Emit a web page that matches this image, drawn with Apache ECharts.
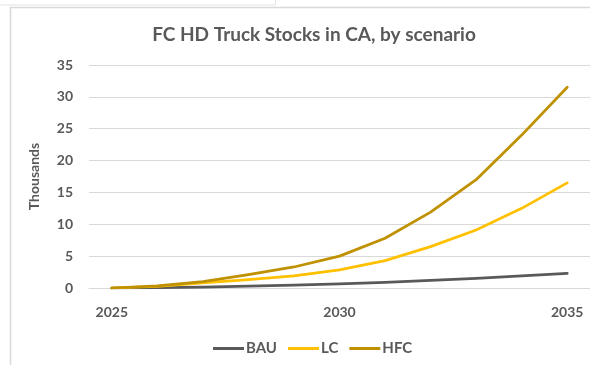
<!DOCTYPE html>
<html>
<head>
<meta charset="utf-8">
<script src="https://cdn.jsdelivr.net/npm/echarts@6/dist/echarts.min.js"></script>
<style>
  html, body { margin: 0; padding: 0; background: #fff; }
  #chart { width: 590px; height: 365px; }
</style>
</head>
<body>
<div id="chart"></div>
<script>
// FC HD truck stocks in California (thousands), by scenario
const years = ['2025', '2026', '2027', '2028', '2029', '2030', '2031', '2032', '2033', '2034', '2035'];
const bau = [0, 0.05, 0.15, 0.3, 0.45, 0.65, 0.9, 1.2, 1.5, 1.9, 2.3];
const lc  = [0, 0.25, 0.8, 1.3, 1.9, 2.85, 4.3, 6.5, 9.1, 12.5, 16.5];
const hfc = [0, 0.35, 1.0, 2.1, 3.3, 5.0, 7.8, 11.9, 17.0, 24.0, 31.5];
const yTicks = { min: 0, max: 35, step: 5 };

const FONT = 'Lato, "Open Sans", sans-serif';
const TEXT = '#595959';
const GRID = '#d9d9d9';

const chart = echarts.init(document.getElementById('chart'), null, { renderer: 'canvas' });

function line(name, data, color) {
  return {
    name, type: 'line', data,
    symbol: 'none',
    lineStyle: { color, width: 2.75, cap: 'round', join: 'round' },
    itemStyle: { color },
    z: 3
  };
}

chart.setOption({
  backgroundColor: '#fff',
  animation: false,
  graphic: [
    // frame of the neighbouring panel above
    { type: 'polyline', shape: { points: [[0, 5], [275.5, 5], [275.5, 0]] },
      style: { stroke: '#e3e3e3', lineWidth: 1, fill: null }, silent: true },
    // chart border
    { type: 'polyline', shape: { points: [[10.5, 365], [10.5, 7.5], [590, 7.5]] },
      style: { stroke: '#d9d9d9', lineWidth: 1.5, fill: null }, silent: true }
  ],
  title: {
    text: 'FC HD Truck Stocks in CA, by scenario',
    left: 309, top: 20, textAlign: 'center',
    textStyle: { fontFamily: FONT, fontSize: 19, fontWeight: 'bold', color: TEXT }
  },
  legend: {
    data: ['BAU', 'LC', 'HFC'],
    left: 208, top: 336,
    itemWidth: 31, itemHeight: 3, itemGap: 11,
    icon: 'rect',
    textStyle: { fontFamily: FONT, fontSize: 15, fontWeight: 'bold', color: TEXT, padding: [0, 0, 0, -3] }
  },
  grid: { left: 89, right: 0, top: 65, bottom: 77, containLabel: false },
  xAxis: {
    type: 'category',
    data: years,
    boundaryGap: true,
    axisLine: { lineStyle: { color: GRID, width: 1 } },
    axisTick: { show: false },
    axisLabel: {
      interval: 4, margin: 17,
      fontFamily: FONT, fontSize: 14, fontWeight: 'bold', color: TEXT
    }
  },
  yAxis: {
    type: 'value',
    min: yTicks.min, max: yTicks.max, interval: yTicks.step,
    name: 'Thousands',
    nameLocation: 'middle', nameRotate: 90, nameGap: 48,
    nameTextStyle: { fontFamily: FONT, fontSize: 14, fontWeight: 'bold', color: TEXT },
    axisLine: { show: false },
    axisTick: { show: false },
    splitLine: { lineStyle: { color: GRID, width: 1 } },
    axisLabel: { margin: 16, fontFamily: FONT, fontSize: 14, fontWeight: 'bold', color: TEXT }
  },
  series: [
    line('BAU', bau, '#595959'),
    line('LC', lc, '#ffc000'),
    line('HFC', hfc, '#bf9000')
  ]
});
</script>
</body>
</html>
